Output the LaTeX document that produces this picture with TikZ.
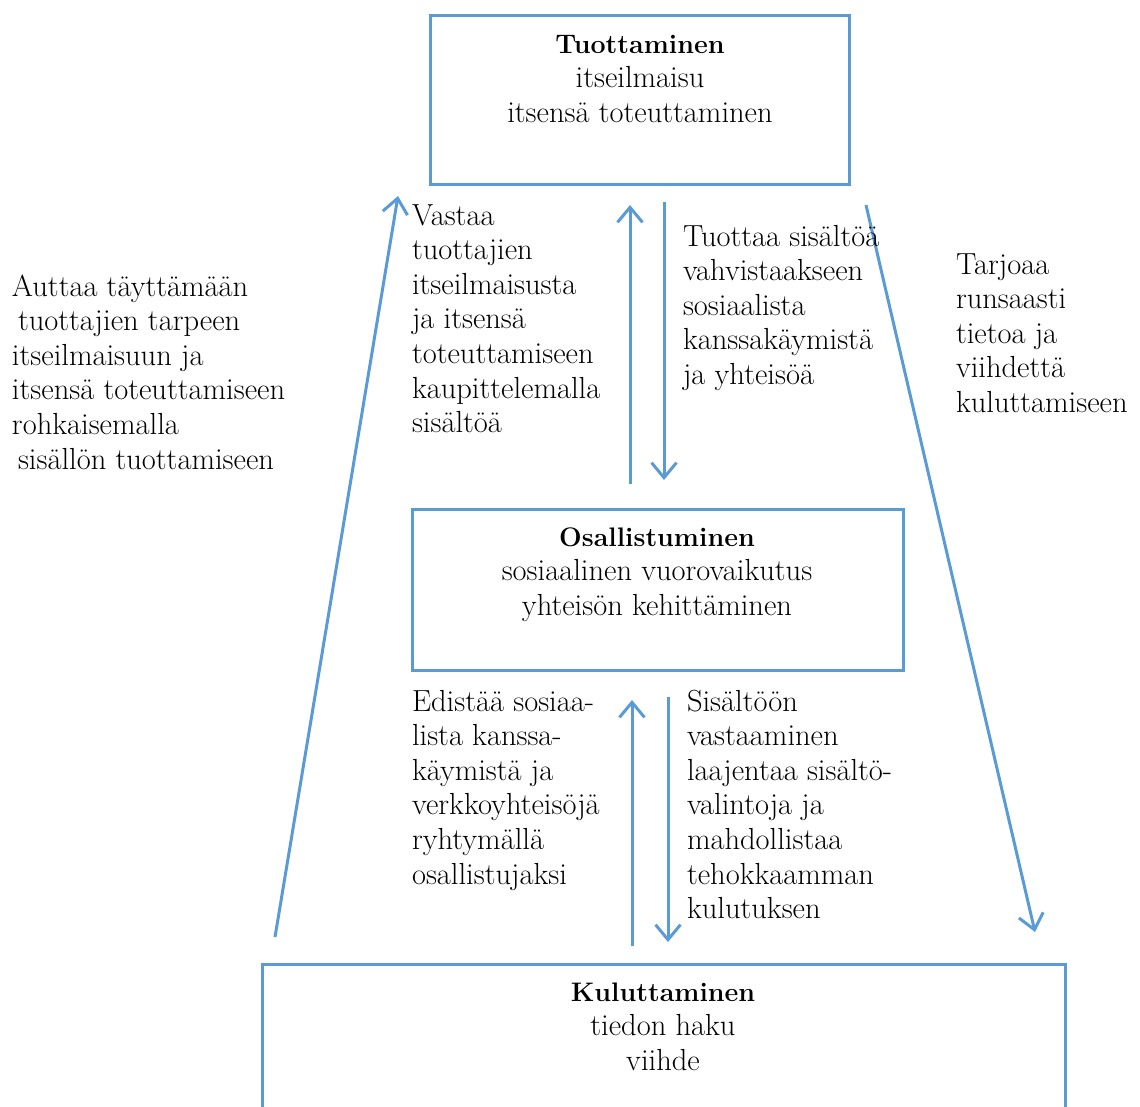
\documentclass[tikz,border=0pt]{standalone}
\usetikzlibrary{arrows.meta}
\definecolor{boxblue}{HTML}{5B9BD5}
\newcommand{\ttlbf}[1]{{\fontsize{26.8}{34.6}\selectfont\textbf{#1}}}
\begin{document}
\begin{tikzpicture}[x=1pt,y=-1pt,
  box/.style={draw=boxblue,line width=3pt,inner sep=0pt,outer sep=0pt,anchor=north west},
  txt/.style={inner sep=0pt,outer sep=0pt,font=\fontsize{30.5}{34.6}\selectfont},
  lbl/.style={txt,align=left,anchor=base west},
  ttl/.style={txt,align=center,anchor=base},
  arr/.style={draw=boxblue,line width=3pt,-{Straight Barb[length=15pt,width=25pt,line width=3pt]}}]
\useasboundingbox (0,0) rectangle (1140,1106);
% boxes
\node[box,minimum width=419,minimum height=169] (prod) at (430,15) {};
\node[box,minimum width=491,minimum height=161] (part) at (412,509) {};
\node[box,minimum width=803,minimum height=220] (cons) at (262,964) {};
% box texts (anchor = baseline of last line)
\node[ttl] (prodtxt) at (640,122.2) {\ttlbf{Tuottaminen}\\itseilmaisu\\itsensä toteuttaminen};
\node[ttl] (parttxt) at (657,615.2) {\ttlbf{Osallistuminen}\\sosiaalinen vuorovaikutus\\yhteisön kehittäminen};
\node[ttl] (constxt) at (663,1070.2) {\ttlbf{Kuluttaminen}\\tiedon haku\\viihde};
% connector end points
\coordinate (la) at (275,937);
\coordinate (lb) at (398,196);
\coordinate (ra) at (866,205);
\coordinate (rb) at (1035,932);
\coordinate (u1a) at (630,484);
\coordinate (u1b) at (630,205);
\coordinate (d1a) at (664,202);
\coordinate (d1b) at (664,480);
\coordinate (u2a) at (632,946);
\coordinate (u2b) at (632,700);
\coordinate (d2a) at (668,697);
\coordinate (d2b) at (668,942);
\draw[arr] (la) -- (lb);
\draw[arr] (ra) -- (rb);
\draw[arr] (u1a) -- (u1b);
\draw[arr] (d1a) -- (d1b);
\draw[arr] (u2a) -- (u2b);
\draw[arr] (d2a) -- (d2b);
% labels (anchor = baseline of last line)
\node[lbl] (tleft) at (12,469) {Auttaa täyttämään\\\hspace*{6pt}tuottajien tarpeen\\itseilmaisuun ja\\itsensä toteuttamiseen\\rohkaisemalla\\\hspace*{6pt}sisällön tuottamiseen};
\node[lbl] (tvast) at (412,432.6) {Vastaa\\tuottajien\\itseilmaisusta\\ja itsensä\\toteuttamiseen\\kaupittelemalla\\sisältöä};
\node[lbl] (ttuot) at (683,384.4) {Tuottaa sisältöä\\vahvistaakseen\\sosiaalista\\kanssakäymistä\\ja yhteisöä};
\node[lbl] (ttarj) at (956,412.4) {Tarjoaa\\runsaasti\\tietoa ja\\viihdettä\\kuluttamiseen};
\node[lbl] (tedis) at (412,884) {Edistää sosiaa-\\lista kanssa-\\käymistä ja\\verkkoyhteisöjä\\ryhtymällä\\osallistujaksi};
\node[lbl] (tsisa) at (687,918.6) {Sisältöön\\vastaaminen\\laajentaa sisältö-\\valintoja ja\\mahdollistaa\\tehokkaamman\\kulutuksen};
\end{tikzpicture}
\end{document}
